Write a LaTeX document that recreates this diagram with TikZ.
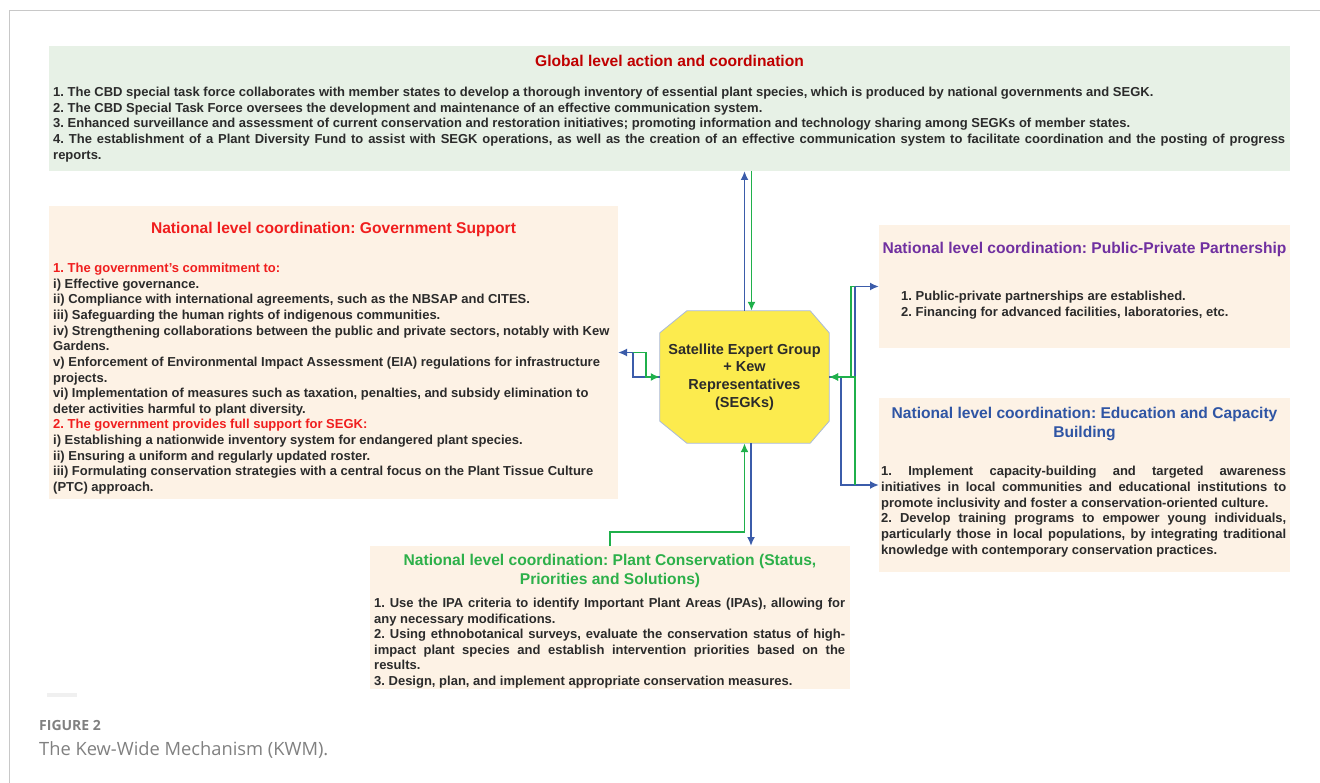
\documentclass[tikz,border=0pt]{standalone}
\usepackage{fontspec}
\setmainfont{Liberation Sans}
\newfontfamily\capfont{Open Sans}
\usetikzlibrary{arrows.meta,backgrounds}
\definecolor{framecol}{HTML}{C8C8C8}
\definecolor{greenfill}{HTML}{E7F1E6}
\definecolor{peach}{HTML}{FDF2E5}
\definecolor{bodycol}{HTML}{2B2B2B}
\definecolor{darkred}{HTML}{C00000}
\definecolor{brightred}{HTML}{F01E1E}
\definecolor{purp}{HTML}{7030A0}
\definecolor{edublue}{HTML}{2F55A4}
\definecolor{plantgreen}{HTML}{2DB04A}
\definecolor{octofill}{HTML}{FCEB4E}
\definecolor{octoline}{HTML}{A9B9DA}
\definecolor{arrblue}{HTML}{3B5CAA}
\definecolor{arrgreen}{HTML}{1FB04B}
\definecolor{capgray}{HTML}{808080}
\newcommand\jl[2]{\makebox[#1][s]{#2}}
\begin{document}
\frenchspacing
\begin{tikzpicture}[x=1pt,y=-1pt,
  panel/.style={anchor=north west, inner sep=0pt, outer sep=0pt, draw=none},
  greenpanel/.style={panel, fill=greenfill},
  peachpanel/.style={panel, fill=peach},
  bodytxt/.style={anchor=base west, inner sep=0pt, align=left, text=bodycol,
    font=\frenchspacing\fontsize{13}{15.7}\selectfont\bfseries},
  titletxt/.style={anchor=base, inner sep=0pt, align=center,
    font=\frenchspacing\fontsize{15.6}{19}\selectfont\bfseries},
  segkbox/.style={inner sep=0pt, minimum width=169pt, minimum height=132pt,
    align=center, text=bodycol, font=\fontsize{14.5}{17.7}\selectfont\bfseries},
  octo/.style={fill=octofill, draw=octoline, line width=0.8pt},
  bluearr/.style={draw=arrblue, line width=1.9pt, -{Latex[length=9pt,width=8pt]}},
  greenarr/.style={draw=arrgreen, line width=1.9pt, -{Latex[length=9pt,width=8pt]}},
]
\useasboundingbox (0,0) rectangle (1320,783);
% frame
\draw[framecol, line width=1pt] (1320,11) -- (9,11) -- (9,783);

% panels
\node[greenpanel, minimum width=1241pt, minimum height=125pt] (glob) at (49,46) {};
\node[peachpanel, minimum width=569pt, minimum height=293pt] (gov) at (49,206) {};
\node[peachpanel, minimum width=411pt, minimum height=123pt] (ppp) at (879,225) {};
\node[peachpanel, minimum width=411pt, minimum height=174pt] (edu) at (879,398) {};
\node[peachpanel, minimum width=480pt, minimum height=143pt] (plant) at (370,546) {};
\fill[black!6] (47,693) rectangle (77,697);

% global text (base = last line)
\node[titletxt, text=darkred] (globt) at (669.5,66.5) {Global level action and coordination};
\node[bodytxt] (globb) at (53,159.3) {1. The CBD special task force collaborates with member states to develop a thorough inventory of essential plant species, which is produced by national governments and SEGK.\\
2. The CBD Special Task Force oversees the development and maintenance of an effective communication system.\\
3. Enhanced surveillance and assessment of current conservation and restoration initiatives; promoting information and technology sharing among SEGKs of member states.\\
\jl{1232pt}{4. The establishment of a Plant Diversity Fund to assist with SEGK operations, as well as the creation of an effective communication system to facilitate coordination and the posting of progress}\\
reports.};

% government text
\node[titletxt, text=brightred] (govt) at (333.5,233.5) {National level coordination: Government Support};
\node[bodytxt, font=\frenchspacing\fontsize{13}{15.64}\selectfont\bfseries] (govb) at (53,491.5) {\textcolor{brightred}{1. The government's commitment to:}\\
i) Effective governance.\\
ii) Compliance with international agreements, such as the NBSAP and CITES.\\
iii) Safeguarding the human rights of indigenous communities.\\
iv) Strengthening collaborations between the public and private sectors, notably with Kew\\
Gardens.\\
v) Enforcement of Environmental Impact Assessment (EIA) regulations for infrastructure\\
projects.\\
vi) Implementation of measures such as taxation, penalties, and subsidy elimination to\\
deter activities harmful to plant diversity.\\
\textcolor{brightred}{2. The government provides full support for SEGK:}\\
i) Establishing a nationwide inventory system for endangered plant species.\\
ii) Ensuring a uniform and regularly updated roster.\\
iii) Formulating conservation strategies with a central focus on the Plant Tissue Culture\\
(PTC) approach.};

% PPP text
\node[titletxt, text=purp] (pppt) at (1084.5,253.5) {National level coordination: Public-Private Partnership};
\node[bodytxt, font=\frenchspacing\fontsize{13}{16}\selectfont\bfseries] (pppb) at (901,316.5) {1. Public-private partnerships are established.\\
2. Financing for advanced facilities, laboratories, etc.};

% education text
\node[titletxt, text=edublue] (edut) at (1084.5,437.5) {National level coordination: Education and Capacity\\Building};
\node[bodytxt, font=\frenchspacing\fontsize{13}{15.8}\selectfont\bfseries] (edub) at (881,554.5) {\jl{405pt}{1. Implement capacity-building and targeted awareness}\\
\jl{405pt}{initiatives in local communities and educational institutions to}\\
promote inclusivity and foster a conservation-oriented culture.\\
\jl{405pt}{2. Develop training programs to empower young individuals,}\\
\jl{405pt}{particularly those in local populations, by integrating traditional}\\
knowledge with contemporary conservation practices.};

% plant text
\node[titletxt, text=plantgreen] (plantt) at (610,584.5) {National level coordination: Plant Conservation (Status,\\Priorities and Solutions)};
\node[bodytxt, font=\frenchspacing\fontsize{13}{15.6}\selectfont\bfseries] (plantb) at (374,685.5) {\jl{471pt}{1. Use the IPA criteria to identify Important Plant Areas (IPAs), allowing for}\\
any necessary modifications.\\
\jl{471pt}{2. Using ethnobotanical surveys, evaluate the conservation status of high-}\\
\jl{471pt}{impact plant species and establish intervention priorities based on the}\\
results.\\
3. Design, plan, and implement appropriate conservation measures.};

% central octagon
\node[segkbox] (segk) at (744.5,377) {Satellite Expert Group\\+ Kew\\Representatives\\(SEGKs)};
\begin{scope}[on background layer]
\filldraw[octo] ([xshift=27pt]segk.north west) -- ([xshift=-19pt]segk.north east)
  -- ([yshift=-22pt]segk.north east) -- ([yshift=22pt]segk.south east)
  -- ([xshift=-19pt]segk.south east) -- ([xshift=27pt]segk.south west)
  -- ([yshift=22pt]segk.south west) -- ([yshift=-22pt]segk.north west) -- cycle;
\end{scope}

% top connectors
\draw[bluearr] (segk.north) -- (segk.north |- glob.south);
\draw[greenarr] ([xshift=7pt]segk.north |- glob.south) -- ([xshift=7pt]segk.north);

% left connectors
\draw[bluearr] (segk.west) -- ++(-27,0) |- (gov.east);
\draw[greenarr] ([xshift=15pt]gov.east) -- ++(13,0) |- (segk.west);

% right connectors
\draw[bluearr] (segk.east) -- ++(26,0) |- (ppp.west);
\draw[bluearr] (segk.east) -- ++(12,0) |- (edu.west);
\draw[greenarr] ([xshift=-24pt]ppp.west) -- ++(-4,0) |- (segk.east);
\draw[greenarr] ([xshift=-24pt]edu.west) |- (segk.east);

% bottom connectors
\draw[greenarr] (plant.north) -- ++(0,-14) -| (segk.south);
\draw[bluearr] ([xshift=6.5pt]segk.south) -- ([xshift=6.5pt]segk.south |- plant.north);

% caption
\node[anchor=base west, inner sep=0pt, text=capgray, font=\capfont\fontsize{14}{16}\selectfont\bfseries] (capa) at (39,730) {FIGURE 2};
\node[anchor=base west, inner sep=0pt, text=capgray, font=\capfont\fontsize{18.3}{20}\selectfont] (capb) at (39,755) {The Kew-Wide Mechanism (KWM).};
\end{tikzpicture}
\end{document}
